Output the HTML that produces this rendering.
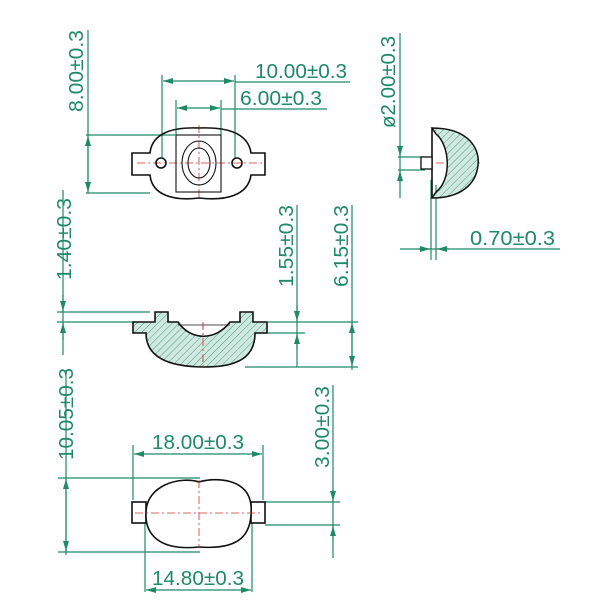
<!DOCTYPE html>
<html><head><style>
html,body{margin:0;padding:0;background:#fff;}
svg{display:block;}
text{font-family:"Liberation Sans",sans-serif;font-size:20px;fill:#1f8a64;}
</style></head><body>
<svg width="600" height="600" viewBox="0 0 600 600" xmlns="http://www.w3.org/2000/svg">
<defs>
<pattern id="h" width="5" height="5" patternUnits="userSpaceOnUse" patternTransform="rotate(45)">
<rect width="5" height="5" fill="#cfe9e0"/><line x1="0" y1="0" x2="0" y2="5" stroke="#4a9a82" stroke-width="1"/>
</pattern>
<marker id="a" viewBox="0 0 10 6" refX="10" refY="3" markerWidth="10" markerHeight="6" orient="auto-start-reverse" markerUnits="userSpaceOnUse"><path d="M0,0L10,3L0,6z" fill="#1f8a64"/></marker>
</defs>
<g stroke="#1f8a64" stroke-width="1.2" fill="none">
<line x1="162" y1="75" x2="162" y2="158"/><line x1="235" y1="75" x2="235" y2="158"/>
<line x1="163" y1="81" x2="234" y2="81" marker-start="url(#a)" marker-end="url(#a)"/>
<line x1="235" y1="82" x2="350" y2="82"/>
<line x1="176" y1="100" x2="176" y2="135"/><line x1="221" y1="100" x2="221" y2="135"/>
<line x1="177" y1="108" x2="220" y2="108" marker-start="url(#a)" marker-end="url(#a)"/>
<line x1="221" y1="109" x2="327" y2="109"/>
<line x1="88" y1="30" x2="88" y2="193"/>
<line x1="88" y1="136" x2="88" y2="192" marker-start="url(#a)" marker-end="url(#a)"/>
<line x1="86" y1="135" x2="175" y2="135"/><line x1="86" y1="193" x2="150" y2="193"/>
<line x1="400" y1="33" x2="400" y2="198"/>
<line x1="398" y1="157" x2="425" y2="157"/><line x1="398" y1="170" x2="425" y2="170"/>
<line x1="400" y1="145" x2="400" y2="156" marker-end="url(#a)"/><line x1="400" y1="182" x2="400" y2="171" marker-end="url(#a)"/>
<line x1="431" y1="180" x2="431" y2="260"/><line x1="436" y1="185" x2="436" y2="260"/>
<line x1="400" y1="249" x2="560" y2="249"/>
<line x1="418" y1="249" x2="430" y2="249" marker-end="url(#a)"/><line x1="450" y1="249" x2="437" y2="249" marker-end="url(#a)"/>
<line x1="63" y1="190" x2="63" y2="355"/>
<line x1="57" y1="312" x2="150" y2="312"/><line x1="57" y1="322" x2="135" y2="322"/>
<line x1="63" y1="295" x2="63" y2="311" marker-end="url(#a)"/><line x1="63" y1="340" x2="63" y2="323" marker-end="url(#a)"/>
<line x1="297" y1="205" x2="297" y2="367"/>
<line x1="268" y1="322" x2="358" y2="322"/><line x1="255" y1="333" x2="305" y2="333"/>
<line x1="297" y1="305" x2="297" y2="321" marker-end="url(#a)"/><line x1="297" y1="350" x2="297" y2="334" marker-end="url(#a)"/>
<line x1="352" y1="205" x2="352" y2="370"/>
<line x1="245" y1="367" x2="358" y2="367"/>
<line x1="352" y1="323" x2="352" y2="366" marker-start="url(#a)" marker-end="url(#a)"/>
<line x1="133" y1="445" x2="133" y2="500"/><line x1="263" y1="445" x2="263" y2="500"/>
<line x1="134" y1="454" x2="262" y2="454" marker-start="url(#a)" marker-end="url(#a)"/>
<line x1="66" y1="370" x2="66" y2="555"/>
<line x1="58" y1="478" x2="200" y2="478"/><line x1="58" y1="552" x2="200" y2="552"/>
<line x1="66" y1="479" x2="66" y2="551" marker-start="url(#a)" marker-end="url(#a)"/>
<line x1="333" y1="385" x2="333" y2="558"/>
<line x1="265" y1="502" x2="340" y2="502"/><line x1="265" y1="525" x2="340" y2="525"/>
<line x1="333" y1="488" x2="333" y2="501" marker-end="url(#a)"/><line x1="333" y1="540" x2="333" y2="526" marker-end="url(#a)"/>
<line x1="145" y1="523" x2="145" y2="592"/><line x1="252" y1="523" x2="252" y2="592"/>
<line x1="146" y1="590" x2="251" y2="590" marker-start="url(#a)" marker-end="url(#a)"/>
</g>
<g stroke="#d03030" stroke-width="0.8" fill="none" stroke-dasharray="8,3,2,3">
<line x1="137" y1="163" x2="262" y2="163"/><line x1="199" y1="125" x2="199" y2="200"/>
<line x1="203" y1="322" x2="203" y2="368"/>
<line x1="420" y1="163" x2="480" y2="163"/>
</g>
<g stroke="#111" stroke-width="1.6" fill="none">
<path d="M150,153 C152,132 175,127 199,128 C225,127 248,132 251,153 L265,153 L265,175 L251,175 C248,196 225,201 199,198 C175,201 152,196 150,175 L132,175 L132,153 Z"/>
<rect x="176" y="135" width="45" height="57" stroke-width="1.1"/>
<ellipse cx="199" cy="163" rx="17" ry="22" stroke-width="1.1"/>
<ellipse cx="199" cy="163" rx="11" ry="15" stroke-width="1.1"/>
<circle cx="161" cy="163" r="5"/><circle cx="237" cy="163" r="5"/>
</g>
<path d="M432,128 C470,128 480,150 478,165 C476,185 460,198 432,198 L436,192 C452,180 450,145 436,134 Z" fill="url(#h)" stroke="#111" stroke-width="1.5"/>
<path d="M432,128 L432,198" stroke="#111" stroke-width="1.6"/>
<rect x="421" y="157" width="11" height="12" fill="#fff" stroke="#111" stroke-width="1.3"/>
<path d="M133,322 L155,322 L155,312 L168,312 L168,322 L178,322 C190,340 215,342 230,322 L240,322 L240,312 L253,312 L253,322 L267,322 L267,333 L255,333 C255,352 245,367 205,367 C160,367 146,352 146,333 L133,333 Z" fill="url(#h)" stroke="#111" stroke-width="1.6"/>
<line x1="178" y1="325" x2="230" y2="325" stroke="#111" stroke-width="0.8"/>
<line x1="203" y1="322" x2="203" y2="368" stroke="#d03030" stroke-width="0.8" stroke-dasharray="8,3,2,3"/>
<g stroke="#111" stroke-width="1.6" fill="#fff">
<rect x="132" y="502" width="14" height="21"/><rect x="251" y="502" width="14" height="21"/>
<path d="M199,482 C215,477 248,478 251,505 C253,535 240,550 199,547 C160,551 145,535 146,513 C146,485 180,476 199,482 Z"/>
</g>
<g stroke="#d03030" stroke-width="0.8" stroke-dasharray="8,3,2,3"><line x1="135" y1="513" x2="262" y2="513"/><line x1="199" y1="480" x2="199" y2="548"/></g>
<text x="255" y="78" textLength="92" lengthAdjust="spacingAndGlyphs">10.00±0.3</text>
<text x="240" y="105" textLength="82" lengthAdjust="spacingAndGlyphs">6.00±0.3</text>
<text transform="translate(83,112) rotate(-90)" textLength="82" lengthAdjust="spacingAndGlyphs">8.00±0.3</text>
<text transform="translate(395,128) rotate(-90)" textLength="92" lengthAdjust="spacingAndGlyphs">ø2.00±0.3</text>
<text x="470" y="245" textLength="85" lengthAdjust="spacingAndGlyphs">0.70±0.3</text>
<text transform="translate(71,280) rotate(-90)" textLength="82" lengthAdjust="spacingAndGlyphs">1.40±0.3</text>
<text transform="translate(293,287) rotate(-90)" textLength="82" lengthAdjust="spacingAndGlyphs">1.55±0.3</text>
<text transform="translate(348,287) rotate(-90)" textLength="82" lengthAdjust="spacingAndGlyphs">6.15±0.3</text>
<text transform="translate(73,460) rotate(-90)" textLength="92" lengthAdjust="spacingAndGlyphs">10.05±0.3</text>
<text transform="translate(329,468) rotate(-90)" textLength="82" lengthAdjust="spacingAndGlyphs">3.00±0.3</text>
<text x="152" y="449" textLength="92" lengthAdjust="spacingAndGlyphs">18.00±0.3</text>
<text x="152" y="585" textLength="92" lengthAdjust="spacingAndGlyphs">14.80±0.3</text>
</svg>
</body></html>
